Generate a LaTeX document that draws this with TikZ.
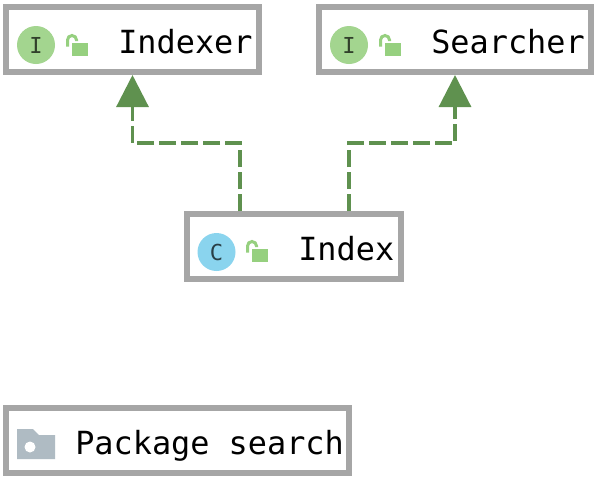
\documentclass[tikz,border=0pt]{standalone}
\usepackage{fontspec}
\setmonofont{DejaVu Sans Mono}
\usetikzlibrary{arrows.meta}
\definecolor{frame}{HTML}{A6A6A6}
\definecolor{dep}{HTML}{5F914F}
\definecolor{ifacefill}{HTML}{A3D58F}
\definecolor{classfill}{HTML}{8AD4EE}
\definecolor{lockfill}{HTML}{96D07F}
\definecolor{folderfill}{HTML}{AFBBC3}
\tikzstyle{umlbox}=[draw=frame,line width=4.5pt,fill=white,inner sep=0pt,minimum height=48.75pt]
\tikzstyle{badge}=[circle,minimum size=28.5pt,inner sep=0pt,text=#1,font=\ttfamily\fontsize{16.5}{16.5}\selectfont]
\tikzstyle{boxtext}=[anchor=base west,inner sep=0pt,font=\ttfamily\fontsize{23.9}{28}\selectfont]
\tikzstyle{realize}=[draw=dep,line width=2.4pt,dash pattern=on 12.5pt off 4pt,
               -{Triangle[width=24pt,length=24pt,fill=dep]}]
\newcommand{\lockicon}[2]{
  \fill[lockfill] (#1,#2) rectangle ++(16,13);
  \draw[lockfill,line width=2.25pt] (#1-4.5,#2+3.5) -- ++(0,-6.5) arc (180:360:4.5) -- ++(0,1);
}
\begin{document}
\begin{tikzpicture}[x=0.75pt,y=-0.75pt]
\useasboundingbox (0,0) rectangle (598,480);

\node[umlbox,minimum width=189.75pt] at (132.5,39.5) (indexer) {};
\node[umlbox,minimum width=204pt] at (455,39.5) (searcher) {};
\node[umlbox,minimum width=160.5pt] at (294,246.5) (index) {};
\node[umlbox,minimum width=257pt] at (177.5,440) (pkg) {};

% interface and class badges
\node[badge=black!70!ifacefill,fill=ifacefill] at (36,45) (iconi) {I};
\node[badge=black!70!ifacefill,fill=ifacefill] at (349,45) (icons) {I};
\node[badge=black!70!classfill,fill=classfill] at (216.5,252) (iconc) {C};
\lockicon{72}{43}
\lockicon{385}{43}
\lockicon{252}{249}

\node[boxtext] at (118,53) (tindexer) {Indexer};
\node[boxtext] at (431,53) (tsearcher) {Searcher};
\node[boxtext] at (298,260) (tindex) {Index};
\node[boxtext] at (75,454) (tpkg) {Package search};

% folder
\fill[folderfill] (17,429) -- (33,429) -- (39,435) -- (55,435) -- (55,459) -- (17,459) -- cycle;
\fill[white] (30,447) circle (5.5);

\draw[realize] ([xshift=-40.5pt]index.north) -- ++(0,-68) -| (indexer.south);
\draw[realize] ([xshift=41.25pt]index.north) -- ++(0,-68) -| (searcher.south);
\end{tikzpicture}
\end{document}
